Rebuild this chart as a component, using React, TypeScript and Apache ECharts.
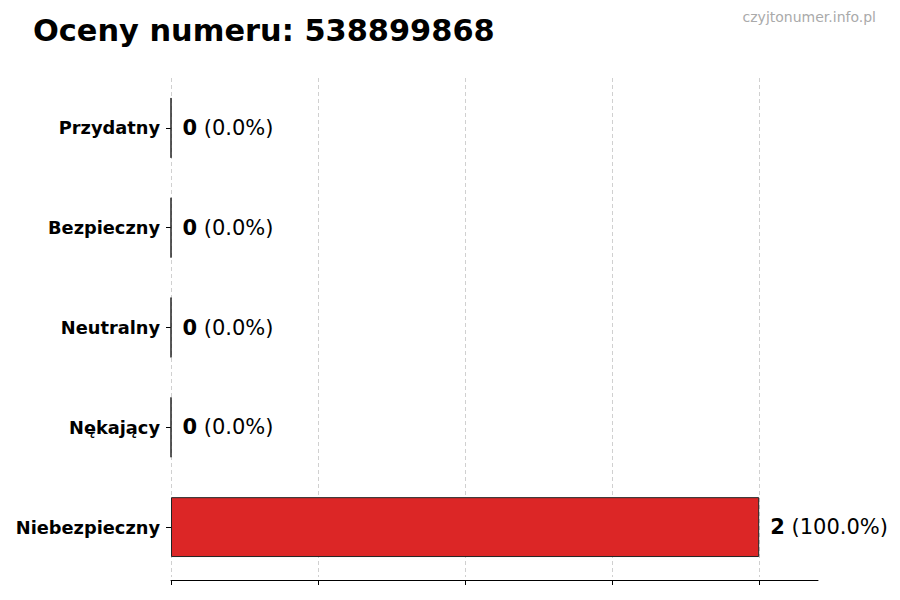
import React, { useEffect, useRef } from "react";
import * as echarts from "echarts";

type EChartsOption = echarts.EChartsOption;

const phoneNumber = "538899868";
const categories = ["Przydatny", "Bezpieczny", "Neutralny", "Nękający", "Niebezpieczny"];
const counts = [0, 0, 0, 0, 2];
const percents = [0.0, 0.0, 0.0, 0.0, 100.0];
const xTicks = [0, 0.5, 1, 1.5, 2];

const FONT = "DejaVu Sans";

const RatingsChart: React.FC = () => {
  const chartRef = useRef<HTMLDivElement>(null);

  useEffect(() => {
    if (!chartRef.current) return;
    const myChart = echarts.init(chartRef.current, undefined, { renderer: "svg" });

    const option: EChartsOption = {
      animation: false,
      backgroundColor: "#ffffff",
      textStyle: { fontFamily: FONT },
      title: {
        text: `Oceny numeru: ${phoneNumber}`,
        left: 33,
        top: 15,
        padding: 0,
        textStyle: { fontFamily: FONT, fontSize: 30.4, fontWeight: "bold", color: "#000000" },
      },
      graphic: [
        {
          type: "text",
          right: 24,
          top: 10,
          style: {
            text: "czyjtonumer.info.pl",
            fontFamily: FONT,
            fontSize: 14,
            fill: "#aaaaaa",
          },
        },
      ],
      grid: {
        left: 171,
        right: 82,
        top: 78,
        bottom: 23,
        containLabel: false,
      },
      xAxis: {
        type: "value",
        min: 0,
        max: 2.2,
        interval: 0.5,
        offset: 3,
        axisLine: { show: true, lineStyle: { color: "#000000", width: 1 } },
        axisTick: {
          show: true,
          length: 5,
          customValues: xTicks,
          lineStyle: { color: "#000000" },
        },
        axisLabel: { show: false },
        splitLine: {
          show: true,
          lineStyle: { color: "#d0d0d0", type: [4, 3], width: 1 },
        },
      },
      yAxis: {
        type: "category",
        data: categories,
        inverse: true,
        axisLine: { show: false },
        axisTick: {
          show: true,
          alignWithLabel: true,
          length: 5,
          lineStyle: { color: "#000000" },
        },
        axisLabel: {
          margin: 11,
          fontFamily: FONT,
          fontSize: 17.8,
          fontWeight: "bold",
          color: "#000000",
        },
      },
      series: [
        {
          type: "bar",
          data: counts,
          barWidth: "60%",
          itemStyle: {
            color: "#dc2626",
            borderColor: "#222222",
            borderWidth: 1,
          },
          label: {
            show: true,
            position: "right",
            distance: 11,
            formatter: (p: any) =>
              `{v|${counts[p.dataIndex]}}{p| (${percents[p.dataIndex].toFixed(1)}%)}`,
            rich: {
              v: { fontFamily: FONT, fontSize: 21, fontWeight: "bold", color: "#000000" },
              p: { fontFamily: FONT, fontSize: 21, color: "#000000" },
            },
          },
        },
      ],
    };

    myChart.setOption(option);
    return () => {
      myChart.dispose();
    };
  }, []);

  return <div ref={chartRef} style={{ width: "900px", height: "600px" }} />;
};

export default function App() {
  return (
    <div style={{ margin: -8 }}>
      <RatingsChart />
    </div>
  );
}
